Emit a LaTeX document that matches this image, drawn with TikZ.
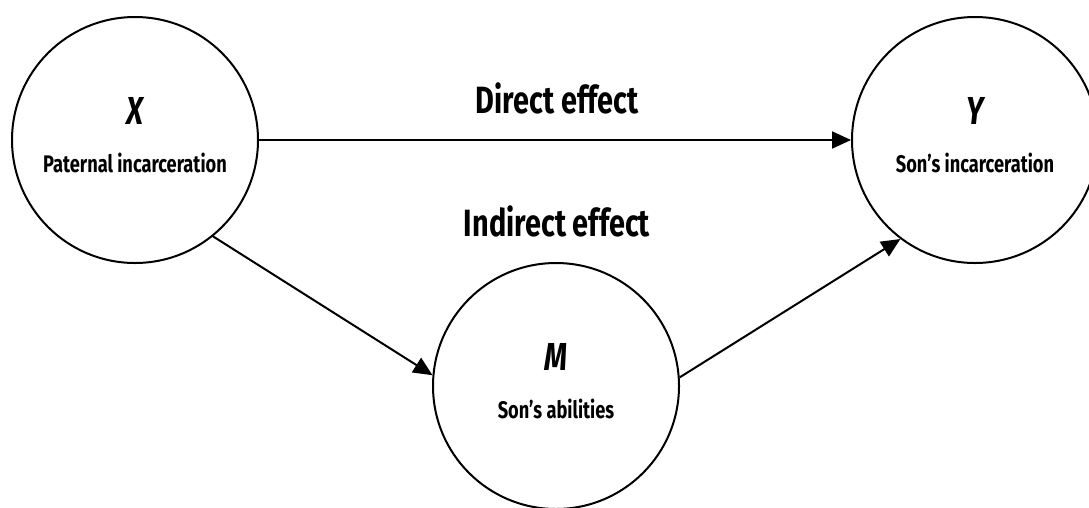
\documentclass[tikz,border=0pt]{standalone}
\usepackage{fontspec}
\newfontfamily\cond[FakeStretch=0.76]{Fira Sans}
\usetikzlibrary{arrows.meta}
\tikzset{
  var/.style={circle, draw, line width=2pt, minimum size=246pt, inner sep=0pt},
  letter/.style={anchor=base, inner sep=0pt, font=\cond\bfseries\itshape\fontsize{39}{41}\selectfont},
  desc/.style={anchor=base, inner sep=0pt, font=\cond\bfseries\fontsize{24}{26}\selectfont},
  big/.style={anchor=base, inner sep=0pt, font=\cond\bfseries\fontsize{38}{40}\selectfont},
  conn/.style={line width=2pt, -{Triangle[length=19pt,width=17pt]}}
}
\begin{document}
\begin{tikzpicture}[x=1pt,y=-1pt]
\useasboundingbox (0,0) rectangle (1089,507);
\clip (0,0) rectangle (1089,507);
\node[var] (X) at (135,140) {};
\node[var] (Y) at (975,140) {};
\node[var] (M) at (556,386) {};
\node[letter] (xl) at (135,124) {X};
\node[desc] (xd) at (135,172) {Paternal incarceration};
\node[letter] (yl) at (975,124) {Y};
\node[desc] (yd) at (975,172) {Son’s incarceration};
\node[letter] (ml) at (556,370) {M};
\node[desc] (md) at (556,418) {Son’s abilities};
\node[big] (de) at (557,113) {Direct effect};
\node[big] (ie) at (557,236) {Indirect effect};
\draw[conn] (X.east) -- (Y.west);
\draw[conn] (X.-51.5) -- (M.175.5);
\draw[conn] (M.4) -- (Y.-127.5);
\end{tikzpicture}
\end{document}
